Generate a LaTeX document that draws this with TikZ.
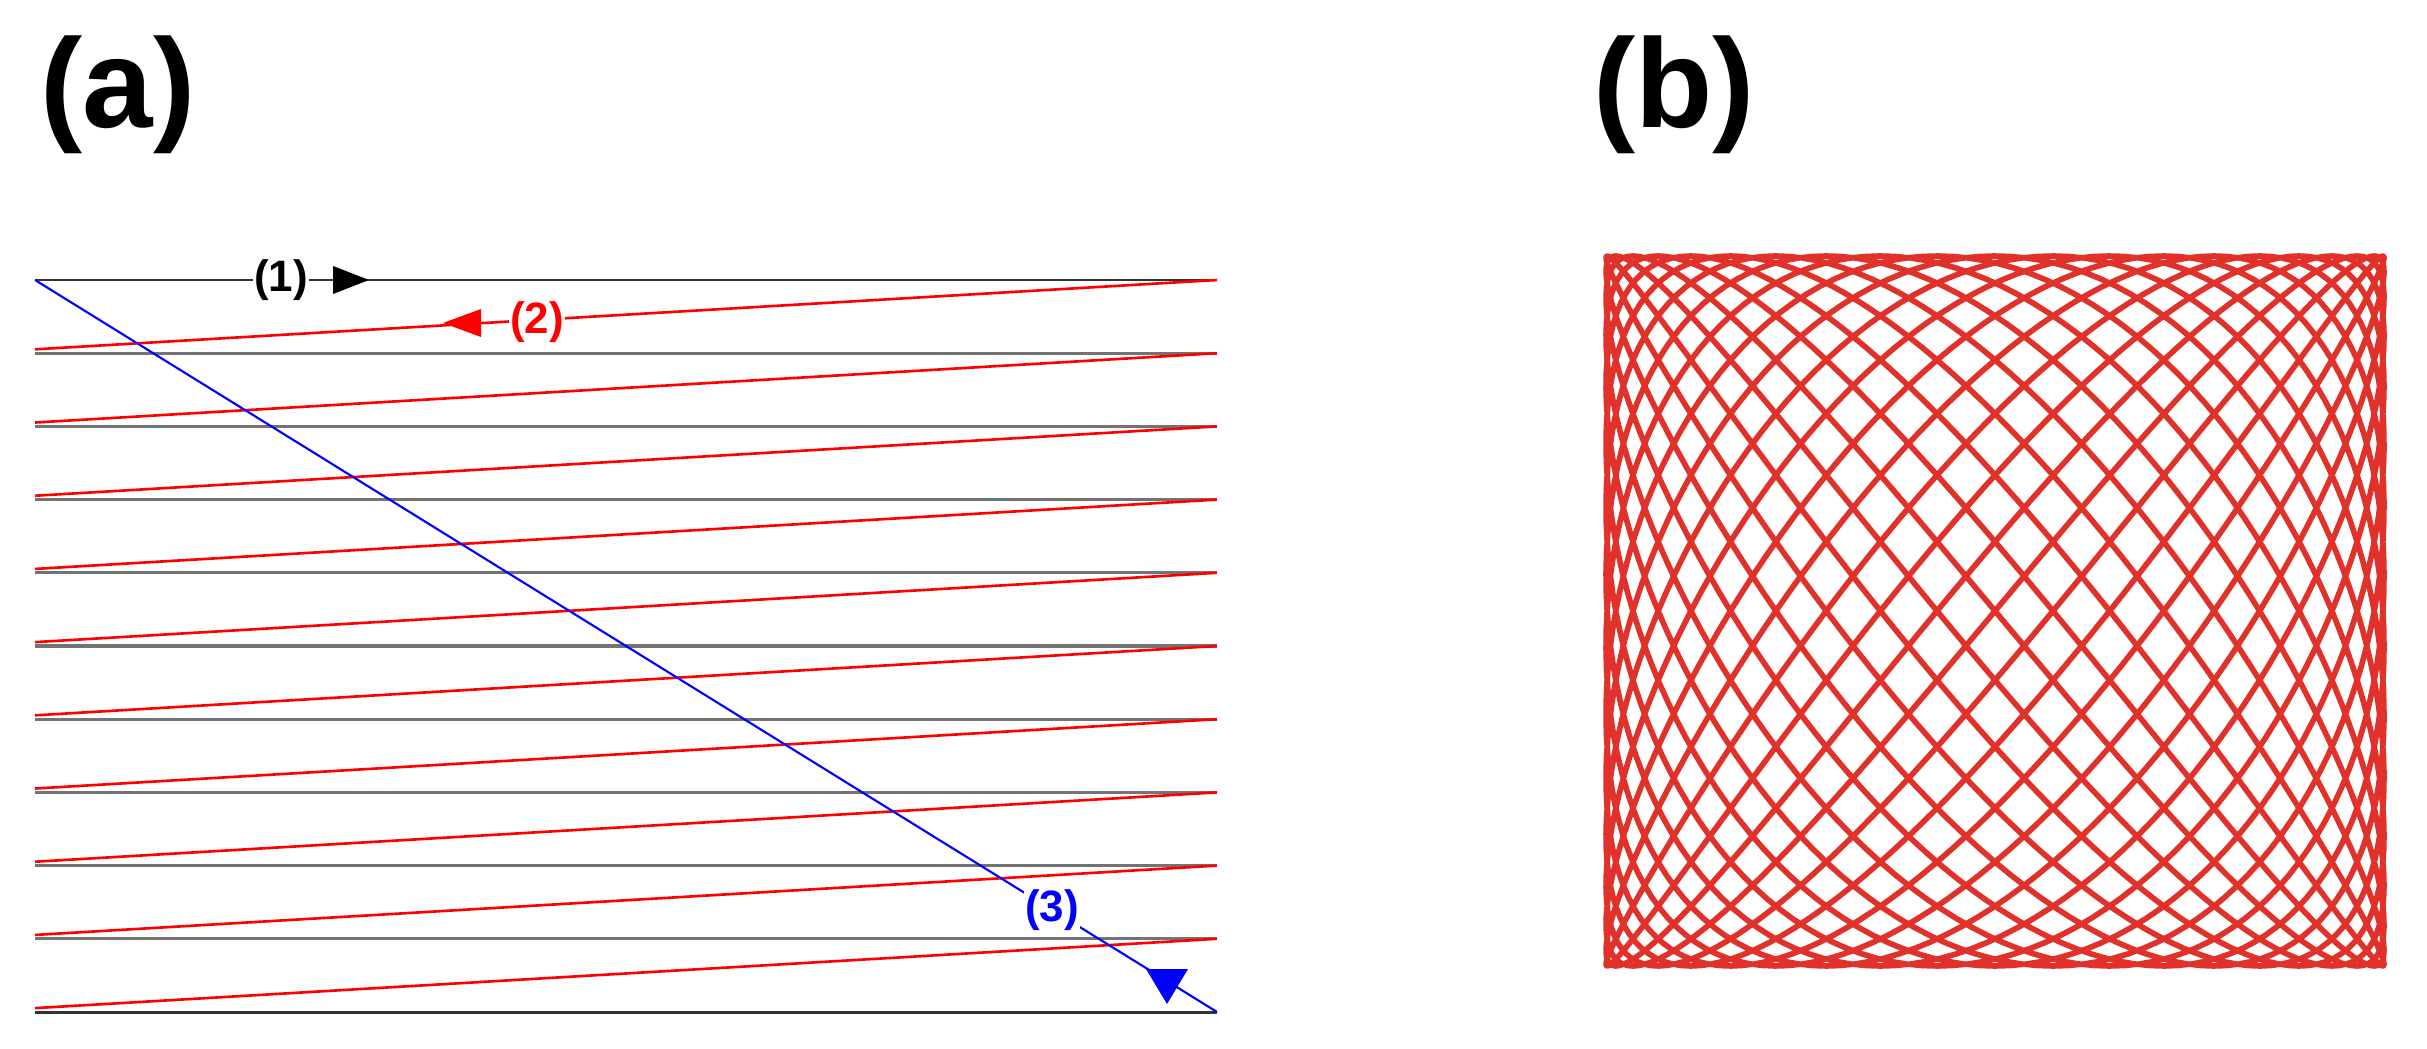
\documentclass[tikz,border=0pt]{standalone}
\usepackage{fontspec}
\setmainfont{Liberation Sans}
\begin{document}
\begin{tikzpicture}[x=0.01cm,y=-0.01cm,
  scanline/.style={line width=0.85pt,color=black!80},
  midline/.style={line width=0.95pt,color=black!55},
  retline/.style={line width=0.75pt,color=red},
  slowline/.style={line width=0.6pt,color=blue},
  panellabel/.style={font=\fontsize{36}{40}\selectfont\bfseries, inner sep=0},
  scanlabel/.style={font=\fontsize{12.5}{14}\selectfont\bfseries, fill=white, inner sep=0.3pt},
  liss/.style={line width=1.6pt,color={rgb,255:red,224;green,50;blue,42},line join=round}]
\useasboundingbox (0,0) rectangle (2427,1049);
\node[panellabel] (la) at (118,95) {(a)};
\node[panellabel] (lb) at (1674,95) {(b)};
\foreach \k in {0,...,10}{
  \coordinate (L\k) at (35, {280+73.2*\k});
  \coordinate (R\k) at (1217, {280+73.2*\k});
}
\foreach \k in {1,...,9} \draw[midline] (L\k) -- (R\k);
\draw[scanline] (L0) -- (R0);
\draw[scanline] (L10) -- (R10);
\foreach \k/\n in {0/1,1/2,2/3,3/4,4/5,5/6,6/7,7/8,8/9,9/10}
  \draw[retline] ([yshift=1.1pt]L\n) -- (R\k);
\draw[slowline] (L0) -- (R10);
\node[scanlabel] (t1) at (281,280) {(1)};
\fill[black] (333,266) -- (369,280) -- (333,294) -- cycle;
\node[scanlabel,text=red] (t2) at (537,322) {(2)};
\fill[red] (443,323) -- (481,309) -- (481,337) -- cycle;
\node[scanlabel,text=blue] (t3) at (1052,910) {(3)};
\fill[blue] (1146,969) -- (1188,969) -- (1167,1004) -- cycle;
\draw[liss] plot[domain=0:360, samples=2521, variable=\t]
  ({1995+389*sin(16*\t)}, {611+355*sin(21*\t)});
\end{tikzpicture}
\end{document}
